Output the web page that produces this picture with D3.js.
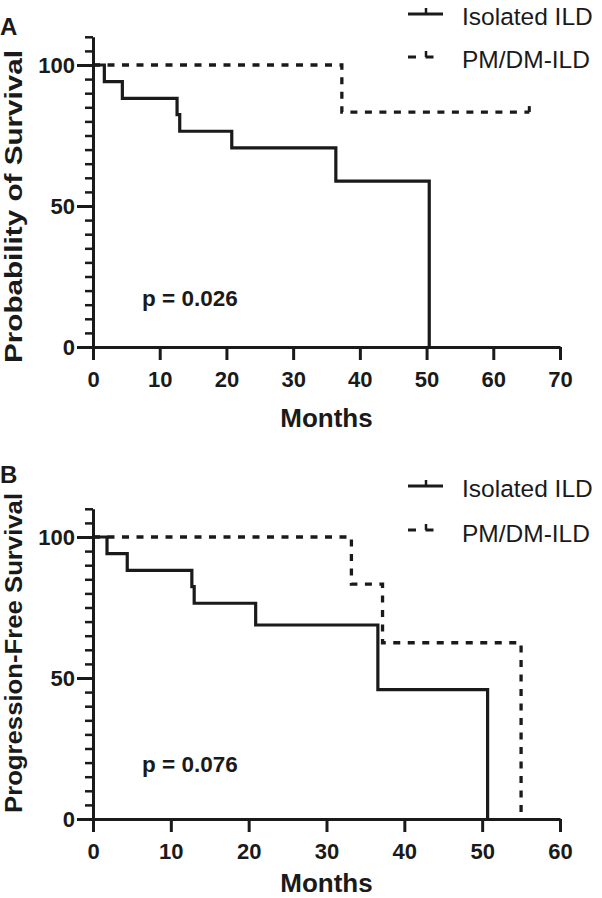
<!DOCTYPE html>
<html>
<head>
<meta charset="utf-8">
<script src="https://cdn.jsdelivr.net/npm/d3@7"></script>
<style>
  html, body { margin: 0; padding: 0; background: #fff; }
  svg { display: block; }
  text { font-family: "Liberation Sans", Arial, sans-serif; fill: #1a1a1a; }
</style>
</head>
<body>
<svg id="chart" width="602" height="898"></svg>
<script>
// ---- Data ----
// Panel A: Probability of Survival
const A_isoTimes = [0, 1.7, 4.4, 12.6, 13.0, 20.8, 36.4, 50.4];
const A_isoSurv  = [100, 94.1, 88.2, 82.4, 76.5, 70.6, 58.8, 0];
const A_pmTimes  = [0, 37.3, 65.4];
const A_pmSurv   = [100, 83.3, 83.3];
const A_pmCensor = [65.4];
// Panel B: Progression-Free Survival
const B_isoTimes = [0, 1.8, 4.4, 12.7, 13.0, 20.9, 36.6, 50.7];
const B_isoSurv  = [100, 94.1, 88.2, 82.4, 76.5, 68.8, 45.9, 0];
const B_pmTimes  = [0, 33.2, 37.2, 55.0];
const B_pmSurv   = [100, 83.3, 62.5, 0];
const B_pmCensor = [];

const seriesNames = ["Isolated ILD", "PM/DM-ILD"];
const yMajorTicks = [0, 50, 100];
const A_xTicks = [0, 10, 20, 30, 40, 50, 60, 70];
const B_xTicks = [0, 10, 20, 30, 40, 50, 60];
const panelLabels = ["A", "B"];
const yTitles = ["Probability of Survival", "Progression-Free Survival"];
const pValues = ["p = 0.026", "p = 0.076"];

const svg = d3.select("#chart");
const ink = "#1a1a1a";
const dash = "7,7.5";

function drawPanel(cfg) {
  const g = svg.append("g");
  const x = d3.scaleLinear().domain([0, cfg.xMax]).range([93, 560]);
  const y = d3.scaleLinear().domain([0, 110]).range([cfg.y0, cfg.y0 - 110 * 2.82]);

  // y axis: minor ticks
  const minor = d3.range(0, 111, 5).filter(v => !yMajorTicks.includes(v));
  const yMinor = g.append("g").attr("transform", "translate(93,0)")
    .call(d3.axisLeft(y).tickValues(minor).tickSize(8).tickSizeOuter(0).tickFormat(""));
  yMinor.select(".domain").remove();
  yMinor.selectAll("line").attr("stroke", ink).attr("stroke-width", 2.5);

  const yAx = g.append("g").attr("transform", "translate(93,0)")
    .call(d3.axisLeft(y).tickValues(yMajorTicks).tickSize(16).tickSizeOuter(0).tickPadding(2));
  yAx.select(".domain").attr("stroke", ink).attr("stroke-width", 3);
  yAx.selectAll("line").attr("stroke", ink).attr("stroke-width", 3);
  yAx.selectAll("text").attr("font-family", "Liberation Sans, Arial, sans-serif")
    .attr("font-size", 22).attr("font-weight", "bold").attr("fill", ink).attr("dy", "0.36em");

  // x axis
  const xAx = g.append("g").attr("transform", `translate(0,${cfg.y0})`)
    .call(d3.axisBottom(x).tickValues(cfg.xTicks).tickSize(13).tickSizeOuter(0));
  xAx.select(".domain").attr("stroke", ink).attr("stroke-width", 3);
  xAx.selectAll("line").attr("stroke", ink).attr("stroke-width", 3);
  xAx.selectAll("text").attr("font-family", "Liberation Sans, Arial, sans-serif")
    .attr("font-size", 22).attr("font-weight", "bold").attr("fill", ink)
    .attr("y", 40).attr("dy", 0);

  // curves
  const line = d3.line().x(d => x(d[0])).y(d => y(d[1])).curve(d3.curveStepAfter);
  const iso = cfg.isoT.map((t, i) => [t, cfg.isoS[i]]);
  const pm = cfg.pmT.map((t, i) => [t, cfg.pmS[i]]);
  g.append("path").datum(pm).attr("d", line).attr("fill", "none")
    .attr("stroke", ink).attr("stroke-width", 3.3).attr("stroke-dasharray", dash);
  g.append("path").datum(iso).attr("d", line).attr("fill", "none")
    .attr("stroke", ink).attr("stroke-width", 3.2).attr("stroke-linejoin", "miter");
  // censor ticks
  cfg.pmC.forEach(t => {
    const s = cfg.pmS[cfg.pmS.length - 1];
    g.append("line").attr("x1", x(t)).attr("x2", x(t))
      .attr("y1", y(s)).attr("y2", y(s) - 6)
      .attr("stroke", ink).attr("stroke-width", 3);
  });

  // legend
  const ly = cfg.legendY;
  ly.forEach((yy, i) => {
    g.append("line").attr("x1", 408).attr("x2", 443).attr("y1", yy).attr("y2", yy)
      .attr("stroke", ink).attr("stroke-width", 3)
      .attr("stroke-dasharray", i === 1 ? "8,9.5" : null);
    g.append("line").attr("x1", 426).attr("x2", 426).attr("y1", yy).attr("y2", yy - 6)
      .attr("stroke", ink).attr("stroke-width", 2.5);
    g.append("text").attr("x", 462).attr("y", cfg.legendTextY[i])
      .attr("font-size", 24.5).text(seriesNames[i]);
  });

  // texts
  g.append("text").attr("x", 0).attr("y", cfg.labelY).attr("font-size", 24)
    .attr("font-weight", "bold").text(cfg.label);
  g.append("text").attr("x", 142).attr("y", cfg.pY).attr("font-size", 22.5)
    .attr("font-weight", "bold").text(cfg.p);
  g.append("text").attr("x", 326.5).attr("y", cfg.monthsY).attr("text-anchor", "middle")
    .attr("font-size", 26).attr("font-weight", "bold").text("Months");
  g.append("text")
    .attr("transform", `translate(22,${cfg.titleC}) rotate(-90)`)
    .attr("text-anchor", "middle").attr("font-size", 24).attr("font-weight", "bold")
    .attr("textLength", cfg.titleLen).attr("lengthAdjust", "spacingAndGlyphs")
    .text(cfg.title);
}

drawPanel({
  xMax: 70, xTicks: A_xTicks, y0: 347,
  isoT: A_isoTimes, isoS: A_isoSurv, pmT: A_pmTimes, pmS: A_pmSurv, pmC: A_pmCensor,
  legendY: [14, 57], legendTextY: [25, 68],
  label: panelLabels[0], labelY: 35, p: pValues[0], pY: 306, monthsY: 427,
  title: yTitles[0], titleC: 206.5, titleLen: 313
});
drawPanel({
  xMax: 60, xTicks: B_xTicks, y0: 819,
  isoT: B_isoTimes, isoS: B_isoSurv, pmT: B_pmTimes, pmS: B_pmSurv, pmC: B_pmCensor,
  legendY: [486, 530], legendTextY: [497, 542],
  label: panelLabels[1], labelY: 483, p: pValues[1], pY: 772, monthsY: 892,
  title: yTitles[1], titleC: 653, titleLen: 320
});
</script>
</body>
</html>
